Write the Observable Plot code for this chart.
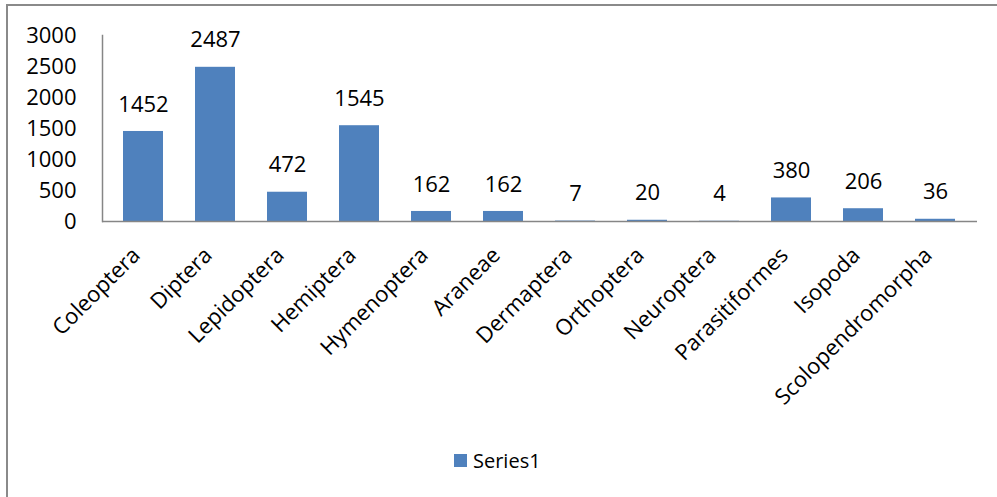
<!DOCTYPE html>
<html>
<head>
<meta charset="utf-8">
<script src="https://cdn.jsdelivr.net/npm/d3@7"></script>
<script src="https://cdn.jsdelivr.net/npm/@observablehq/plot@0.6"></script>
<style>
  html, body { margin: 0; padding: 0; background: #fff; }
  #wrap { position: relative; width: 997px; height: 497px; overflow: hidden; font-family: "Open Sans", sans-serif; }
  #frame { position: absolute; left: 6px; top: 4px; right: -10px; bottom: -10px;
           border-left: 2px solid #8a8a8a; border-top: 2px solid #8a8a8a; pointer-events: none; }
  #chart { position: absolute; left: 0; top: 0; }
  #legend { position: absolute; left: 454px; top: 447px; display: flex; align-items: center;
            font-size: 20px; color: #000; }
  #legend .sw { width: 13px; height: 13px; background: #4F81BD; margin-right: 6px; }
</style>
</head>
<body>
<div id="wrap">
  <div id="chart"></div>
  <div id="frame"></div>
  <div id="legend"><span class="sw"></span><span>Series1</span></div>
</div>
<script>
// Specimen counts per taxon
const taxa = ["Coleoptera", "Diptera", "Lepidoptera", "Hemiptera", "Hymenoptera", "Araneae",
              "Dermaptera", "Orthoptera", "Neuroptera", "Parasitiformes", "Isopoda", "Scolopendromorpha"];
const counts = [1452, 2487, 472, 1545, 162, 162, 7, 20, 4, 380, 206, 36];
const yTicks = [0, 500, 1000, 1500, 2000, 2500, 3000];

const rows = taxa.map((t, i) => ({taxon: t, count: counts[i]}));
const blue = "#4F81BD";
const axisGray = "#868686";

const chart = Plot.plot({
  width: 997,
  height: 497,
  marginLeft: 102,
  marginRight: 20,
  marginTop: 35,
  marginBottom: 276,
  style: {fontFamily: "'Open Sans', sans-serif", fontSize: "22px", color: "#000", background: "transparent"},
  x: {domain: taxa, paddingInner: 0.44, paddingOuter: 0.22, label: null},
  y: {domain: [0, 3000], label: null},
  marks: [
    Plot.barY(rows, {x: "taxon", y: "count", fill: blue}),
    Plot.text(rows, {x: "taxon", y: "count", text: d => String(d.count), dy: -27, fontSize: 22, fill: "#000"}),
    Plot.frame({anchor: "left", stroke: axisGray, strokeWidth: 1.5}),
    Plot.ruleY([0], {stroke: axisGray, strokeWidth: 1.5}),
    Plot.axisY({ticks: yTicks, tickSize: 0, tickPadding: 26, fontSize: 22, label: null, tickFormat: d => String(d)}),
    Plot.axisX({tickSize: 0, tickPadding: 30, dx: -7, tickRotate: -45, fontSize: 22, label: null})
  ]
});
document.getElementById("chart").appendChild(chart);
</script>
</body>
</html>
